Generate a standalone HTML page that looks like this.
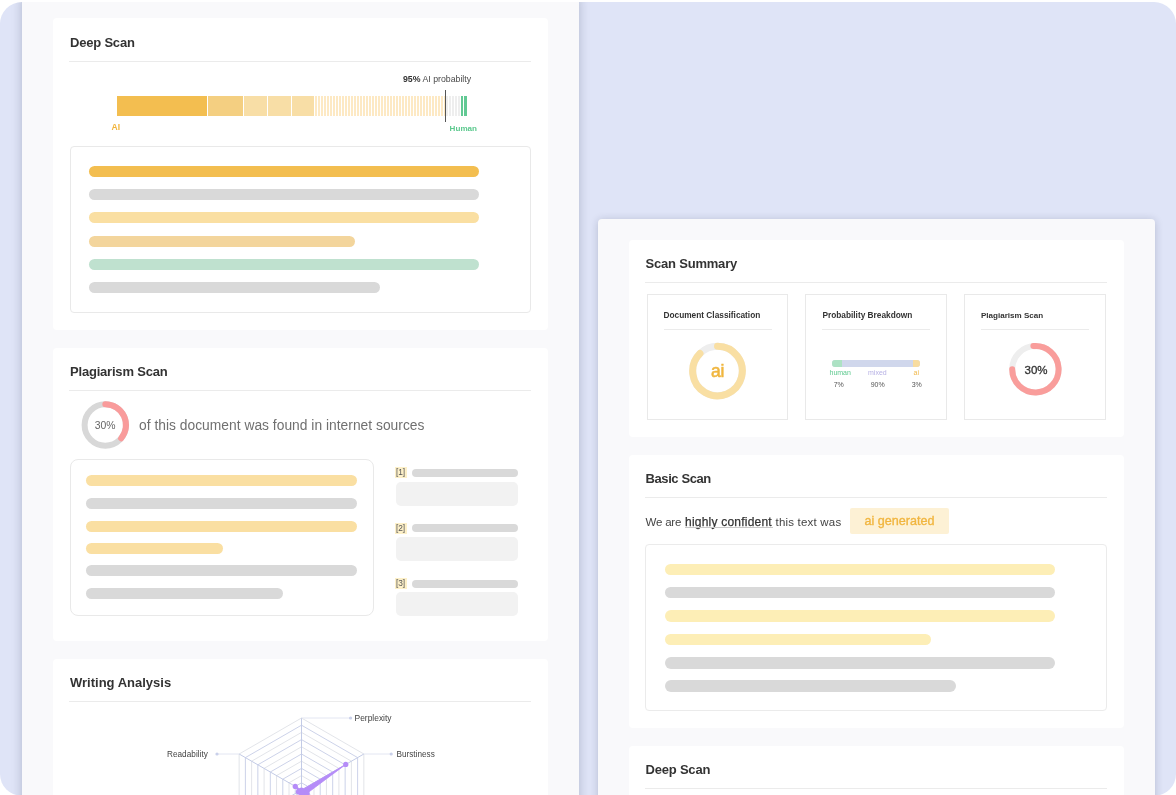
<!DOCTYPE html>
<html><head><meta charset="utf-8">
<style>
*{box-sizing:border-box;margin:0;padding:0}
html,body{width:1176px;height:795px;overflow:hidden;background:#fff}
body{position:relative;-webkit-font-smoothing:antialiased;font-family:"Liberation Sans",Arial,sans-serif;color:#333}
.a{position:absolute}
#root{position:absolute;left:0;top:0;width:1176px;height:795px;will-change:transform}
#bg{left:0;top:1.7px;width:1176px;height:794px;background:#dfe4f7;border-radius:22px;overflow:hidden}
.panel{position:absolute;background:#f9f9fb}
.card{position:absolute;background:#fff;border-radius:4px}
.t{position:absolute;font-weight:bold;font-size:13px;line-height:13px;color:#333;white-space:nowrap}
.hr{position:absolute;height:1px;background:#ebebeb}
.ln{position:absolute;height:11px;border-radius:6px}
.o1{background:#f3be50}
.g{background:#d9d9d9}
.o2{background:#fadfa2}
.o3{background:#f3d59c}
.gr{background:#bfe1cf}
.y{background:#fdeeb6}
.box{position:absolute;background:#fff;border:1px solid #e9e9e9;border-radius:4px}
.sb{position:absolute;background:#fff;border:1.6px solid #e9e9e9}
.st{position:absolute;font-weight:bold;font-size:8.3px;line-height:9px;color:#333;white-space:nowrap}
.s{white-space:nowrap}
</style></head><body>
<div id="root">
<div class="a" id="bg">
  <!-- left panel -->
  <div class="panel" style="left:22px;top:-6px;width:557px;height:820px;box-shadow:0 0 10px rgba(20,30,60,.22)"></div>
  <!-- right panel -->
  <div class="panel" style="left:598px;top:217px;width:557px;height:620px;border-radius:4px;box-shadow:0 1px 9px rgba(20,30,60,.2)"></div>
</div>

<!-- ===== LEFT: Deep Scan card ===== -->
<div class="card" style="left:52.8px;top:18px;width:495.2px;height:312px"></div>
<div class="t" style="left:70px;top:35.6px;letter-spacing:-0.2px">Deep Scan</div>
<div class="hr" style="left:69px;top:61px;width:462px"></div>

<div class="a s" style="left:403px;top:74px;font-size:8.75px;line-height:10px;color:#4a4a4a"><b style="color:#333">95%</b> AI probabilty</div>

<!-- bar -->
<div class="a" style="left:117px;top:96px;width:350px;height:20px;overflow:hidden">
  <div class="a" style="left:0;top:0;width:90px;height:20px;background:#f3be50"></div>
  <div class="a" style="left:91px;top:0;width:35px;height:20px;background:#f4cf81"></div>
  <div class="a" style="left:127px;top:0;width:23px;height:20px;background:#f8dea6"></div>
  <div class="a" style="left:151px;top:0;width:23px;height:20px;background:#f8dea6"></div>
  <div class="a" style="left:175px;top:0;width:22px;height:20px;background:#f8dea6"></div>
  <div class="a" style="left:198px;top:0;width:130px;height:20px;background:repeating-linear-gradient(90deg,#fde9c4 0 2px,#fff 2px 3px)"></div>
  <div class="a" style="left:329px;top:0;width:15px;height:20px;background:repeating-linear-gradient(90deg,#eeeeee 0 2px,#fff 2px 3px)"></div>
  <div class="a" style="left:344px;top:0;width:2px;height:20px;background:#62c994"></div><div class="a" style="left:346.8px;top:0;width:3.2px;height:20px;background:#62c994"></div>
</div>
<div class="a" style="left:444.6px;top:90px;width:1.3px;height:31.6px;background:#555"></div>
<div class="a s" style="left:111.6px;top:122.3px;font-size:8.5px;line-height:10px;color:#f1b43c;font-weight:bold">AI</div>
<div class="a s" style="left:449.6px;top:124.2px;font-size:8.1px;line-height:10px;color:#5cc98e;font-weight:bold">Human</div>

<div class="box" style="left:69.5px;top:146px;width:461.5px;height:167px"></div>
<div class="ln o1" style="left:89px;top:165.5px;width:390px"></div>
<div class="ln g"  style="left:89px;top:188.8px;width:390px"></div>
<div class="ln o2" style="left:89px;top:212px;width:390px"></div>
<div class="ln o3" style="left:89px;top:235.5px;width:266px"></div>
<div class="ln gr" style="left:89px;top:258.8px;width:390px"></div>
<div class="ln g"  style="left:89px;top:282px;width:291px"></div>

<!-- ===== LEFT: Plagiarism card ===== -->
<div class="card" style="left:52.8px;top:348px;width:495.2px;height:293px"></div>
<div class="t" style="left:70px;top:364.5px;letter-spacing:-0.2px">Plagiarism Scan</div>
<div class="hr" style="left:69px;top:390px;width:462px"></div>
<svg class="a" style="left:81px;top:401px" width="49" height="49" viewBox="0 0 49 49">
  <circle cx="24.3" cy="24" r="20.7" fill="none" stroke="#d8d8d8" stroke-width="6"/>
  <path d="M24.3 3.3 A20.7 20.7 0 0 1 40.16 37.31" fill="none" stroke="#f99b9b" stroke-width="6" stroke-linecap="round"/>
</svg>
<div class="a s" style="left:93.1px;top:419.6px;width:24px;text-align:center;font-size:10.4px;line-height:12px;color:#666">30%</div>
<div class="a s" style="left:139px;top:418px;font-size:13.8px;line-height:16px;color:#707070;letter-spacing:0.02px">of this document was found in internet sources</div>

<div class="box" style="left:69.5px;top:459px;width:304px;height:156.5px;border-radius:8px;border-width:1.5px"></div>
<div class="ln o2" style="left:86px;top:475.3px;width:271px"></div>
<div class="ln g"  style="left:86px;top:497.9px;width:271px"></div>
<div class="ln o2" style="left:86px;top:520.5px;width:271px"></div>
<div class="ln o2" style="left:86px;top:543px;width:136.5px"></div>
<div class="ln g"  style="left:86px;top:565.4px;width:271px"></div>
<div class="ln g"  style="left:86px;top:588px;width:197px"></div>

<!-- sources -->
<div class="a s" style="left:394.5px;top:467.4px;width:12px;height:11px;background:#fdf0c8;font-size:8.3px;line-height:11px;color:#555;text-align:center">[1]</div>
<div class="a" style="left:411.5px;top:469px;width:106.5px;height:8px;border-radius:4px;background:#d9d9d9"></div>
<div class="a" style="left:395.5px;top:481.7px;width:122.5px;height:24px;border-radius:5px;background:#f2f2f2"></div>
<div class="a s" style="left:394.5px;top:522.9px;width:12px;height:11px;background:#fdf0c8;font-size:8.3px;line-height:11px;color:#555;text-align:center">[2]</div>
<div class="a" style="left:411.5px;top:524.3px;width:106.5px;height:8px;border-radius:4px;background:#d9d9d9"></div>
<div class="a" style="left:395.5px;top:537px;width:122.5px;height:24px;border-radius:5px;background:#f2f2f2"></div>
<div class="a s" style="left:394.5px;top:578.2px;width:12px;height:11px;background:#fdf0c8;font-size:8.3px;line-height:11px;color:#555;text-align:center">[3]</div>
<div class="a" style="left:411.5px;top:579.6px;width:106.5px;height:8px;border-radius:4px;background:#d9d9d9"></div>
<div class="a" style="left:395.5px;top:592px;width:122.5px;height:24px;border-radius:5px;background:#f2f2f2"></div>

<!-- ===== LEFT: Writing Analysis card ===== -->
<div class="card" style="left:52.8px;top:659px;width:495.2px;height:200px"></div>
<div class="t" style="left:70px;top:676px;letter-spacing:0px">Writing Analysis</div>
<div class="hr" style="left:69px;top:701px;width:462px"></div>
<svg class="a" style="left:150px;top:705px" width="300" height="90" viewBox="150 705 300 90" id="radar">
<polygon points="301.50,782.80 307.74,786.40 307.74,793.60 301.50,797.20 295.26,793.60 295.26,786.40" fill="none" stroke="#c6cde6" stroke-width="0.9"/>
<polygon points="301.50,775.60 313.97,782.80 313.97,797.20 301.50,804.40 289.03,797.20 289.03,782.80" fill="none" stroke="#dfe1e6" stroke-width="0.9"/>
<polygon points="301.50,768.40 320.21,779.20 320.21,800.80 301.50,811.60 282.79,800.80 282.79,779.20" fill="none" stroke="#c6cde6" stroke-width="0.9"/>
<polygon points="301.50,761.20 326.44,775.60 326.44,804.40 301.50,818.80 276.56,804.40 276.56,775.60" fill="none" stroke="#dfe1e6" stroke-width="0.9"/>
<polygon points="301.50,754.00 332.68,772.00 332.68,808.00 301.50,826.00 270.32,808.00 270.32,772.00" fill="none" stroke="#c6cde6" stroke-width="0.9"/>
<polygon points="301.50,746.80 338.91,768.40 338.91,811.60 301.50,833.20 264.09,811.60 264.09,768.40" fill="none" stroke="#dfe1e6" stroke-width="0.9"/>
<polygon points="301.50,739.60 345.15,764.80 345.15,815.20 301.50,840.40 257.85,815.20 257.85,764.80" fill="none" stroke="#c6cde6" stroke-width="0.9"/>
<polygon points="301.50,732.40 351.38,761.20 351.38,818.80 301.50,847.60 251.62,818.80 251.62,761.20" fill="none" stroke="#dfe1e6" stroke-width="0.9"/>
<polygon points="301.50,725.20 357.62,757.60 357.62,822.40 301.50,854.80 245.38,822.40 245.38,757.60" fill="none" stroke="#c6cde6" stroke-width="0.9"/>
<polygon points="301.50,718.00 363.85,754.00 363.85,826.00 301.50,862.00 239.15,826.00 239.15,754.00" fill="none" stroke="#dfe1e6" stroke-width="0.9"/>
<line x1="301.5" y1="790.0" x2="301.50" y2="718.00" stroke="#c3cbe6" stroke-width="1"/>
<line x1="301.5" y1="790.0" x2="363.85" y2="754.00" stroke="#c3cbe6" stroke-width="1"/>
<line x1="301.5" y1="790.0" x2="363.85" y2="826.00" stroke="#c3cbe6" stroke-width="1"/>
<line x1="301.5" y1="790.0" x2="301.50" y2="862.00" stroke="#c3cbe6" stroke-width="1"/>
<line x1="301.5" y1="790.0" x2="239.15" y2="826.00" stroke="#c3cbe6" stroke-width="1"/>
<line x1="301.5" y1="790.0" x2="239.15" y2="754.00" stroke="#c3cbe6" stroke-width="1"/>
<line x1="301.50" y1="718.00" x2="350.6" y2="718.00" stroke="#e3e6f2" stroke-width="1"/>
<circle cx="350.6" cy="718.00" r="1.6" fill="#c9d0ea"/>
<line x1="363.85" y1="754.00" x2="391.2" y2="754.00" stroke="#e3e6f2" stroke-width="1"/>
<circle cx="391.2" cy="754.00" r="1.6" fill="#c9d0ea"/>
<line x1="239.15" y1="754.00" x2="217" y2="754.00" stroke="#e3e6f2" stroke-width="1"/>
<circle cx="217" cy="754.00" r="1.6" fill="#c9d0ea"/>
<text x="354.5" y="721.00" font-family="Liberation Sans, sans-serif" font-size="8.45" fill="#444">Perplexity</text>
<text x="396.5" y="757.00" font-family="Liberation Sans, sans-serif" font-size="8.2" fill="#444">Burstiness</text>
<text x="208" y="757.00" text-anchor="end" font-family="Liberation Sans, sans-serif" font-size="8.2" fill="#444" letter-spacing="0.05">Readability</text>
<polygon points="301.50,790.00 345.77,764.44 307.11,793.24 301.50,804.40 298.38,791.80 295.26,786.40" fill="#b58cf8" stroke="#b58cf8" stroke-width="0.8" stroke-linejoin="round"/>
<circle cx="301.50" cy="790.00" r="2.6" fill="#b58cf8"/>
<circle cx="345.77" cy="764.44" r="2.6" fill="#b58cf8"/>
<circle cx="307.11" cy="793.24" r="2.6" fill="#b58cf8"/>
<circle cx="301.50" cy="804.40" r="2.6" fill="#b58cf8"/>
<circle cx="298.38" cy="791.80" r="2.6" fill="#b58cf8"/>
<circle cx="295.26" cy="786.40" r="2.6" fill="#b58cf8"/>
</svg>

<!-- ===== RIGHT: Scan Summary ===== -->
<div class="card" style="left:629px;top:240px;width:495px;height:197px"></div>
<div class="t" style="left:645.5px;top:257px;letter-spacing:-0.2px">Scan Summary</div>
<div class="hr" style="left:645.3px;top:282px;width:462px"></div>
<!-- box 1 -->
<div class="sb" style="left:646.5px;top:294px;width:141.8px;height:126px"></div>
<div class="st" style="left:663.5px;top:311px">Document Classification</div>
<div class="hr" style="left:663.5px;top:328.8px;width:108px"></div>
<svg class="a" style="left:688px;top:342px" width="59" height="59" viewBox="0 0 59 59">
  <circle cx="29.5" cy="29" r="24.8" fill="none" stroke="#eeeeee" stroke-width="7"/>
  <path d="M29.5 4.2 A24.8 24.8 0 1 1 11.96 11.46" fill="none" stroke="#f9dfa3" stroke-width="7" stroke-linecap="round"/>
</svg>
<div class="a s" style="left:701.7px;top:359.5px;width:32px;text-align:center;font-size:17.5px;line-height:22px;color:#f0b63f;-webkit-text-stroke:0.55px #f0b63f">ai</div>
<!-- box 2 -->
<div class="sb" style="left:805px;top:294px;width:141.8px;height:126px"></div>
<div class="st" style="left:822.4px;top:311px">Probability Breakdown</div>
<div class="hr" style="left:822.4px;top:328.8px;width:108px"></div>
<div class="a" style="left:832.3px;top:360.3px;width:88px;height:6.5px;border-radius:3.25px;background:#d0d7ec;overflow:hidden">
  <div class="a" style="left:0;top:0;width:10px;height:6.5px;background:#ade2c4"></div>
  <div class="a" style="left:81px;top:0;width:7px;height:6.5px;background:#f8dc9f"></div>
</div>
<div class="a s" style="left:829.5px;top:368px;font-size:7px;line-height:9px;color:#5ec98f">human</div>
<div class="a s" style="left:868px;top:368px;font-size:7px;line-height:9px;color:#b6b0e4">mixed</div>
<div class="a s" style="left:913.6px;top:368px;font-size:7px;line-height:9px;color:#f1b84a">ai</div>
<div class="a s" style="left:833.7px;top:380px;font-size:7px;line-height:9px;color:#555">7%</div>
<div class="a s" style="left:870.7px;top:380px;font-size:7px;line-height:9px;color:#555">90%</div>
<div class="a s" style="left:911.7px;top:380px;font-size:7px;line-height:9px;color:#555">3%</div>
<!-- box 3 -->
<div class="sb" style="left:964px;top:294px;width:141.8px;height:126px"></div>
<div class="st" style="left:981px;top:311px;font-size:8.05px">Plagiarism Scan</div>
<div class="hr" style="left:981px;top:328.8px;width:108px"></div>
<svg class="a" style="left:1009px;top:342.5px" width="53" height="53" viewBox="0 0 53 53">
  <circle cx="26.4" cy="26.3" r="23.2" fill="none" stroke="#eeeeee" stroke-width="6"/>
  <path d="M24.4 3.1 A23.2 23.2 0 1 1 3.2 26.3" fill="none" stroke="#f99d9b" stroke-width="6" stroke-linecap="round"/>
  <path d="M24.4 0.1 L27 0.1 L27 6.1 L24.4 6.1 Z" fill="#f99d9b"/>
</svg>
<div class="a s" style="left:1020.5px;top:362.8px;width:31px;text-align:center;font-size:11.5px;line-height:14px;color:#333;-webkit-text-stroke:0.3px #333">30%</div>

<!-- ===== RIGHT: Basic Scan ===== -->
<div class="card" style="left:629px;top:454.5px;width:495px;height:273.5px"></div>
<div class="t" style="left:645.5px;top:472px;letter-spacing:-0.4px">Basic Scan</div>
<div class="hr" style="left:645.3px;top:497px;width:462px"></div>
<div class="a s" style="left:645.5px;top:515px;font-size:11.5px;line-height:14px;color:#444;letter-spacing:-0.2px">We are</div>
<div class="a s" style="left:685px;top:514.6px;font-size:12px;line-height:14px;color:#333;letter-spacing:0.22px;-webkit-text-stroke:0.25px #333">highly confident</div>
<div class="a" style="left:685px;top:527px;width:87.5px;height:1px;background:#c8c8c8"></div>
<div class="a s" style="left:775.5px;top:515px;font-size:11.5px;line-height:14px;color:#444;letter-spacing:0.2px">this text was</div>
<div class="a s" style="left:850px;top:508px;width:99px;height:25.5px;border-radius:2px;background:#fdf1d5;font-size:12.6px;line-height:27px;color:#f1b640;-webkit-text-stroke:0.35px #f1b640;text-align:center">ai generated</div>

<div class="box" style="left:645px;top:544px;width:462px;height:166.5px;border-width:1.3px;border-color:#ebebeb"></div>
<div class="ln y" style="left:665px;top:563.5px;width:390px;height:11.5px"></div>
<div class="ln g" style="left:665px;top:586.9px;width:390px;height:11.5px"></div>
<div class="ln y" style="left:665px;top:610.3px;width:390px;height:11.5px"></div>
<div class="ln y" style="left:665px;top:633.6px;width:266px;height:11.5px"></div>
<div class="ln g" style="left:665px;top:657px;width:390px;height:11.5px"></div>
<div class="ln g" style="left:665px;top:680.4px;width:291px;height:11.5px"></div>

<!-- ===== RIGHT: Deep Scan ===== -->
<div class="card" style="left:629px;top:746px;width:495px;height:100px"></div>
<div class="t" style="left:645.5px;top:763px;letter-spacing:-0.2px">Deep Scan</div>
<div class="hr" style="left:645.3px;top:787.8px;width:462px"></div>

</div>
</body></html>
